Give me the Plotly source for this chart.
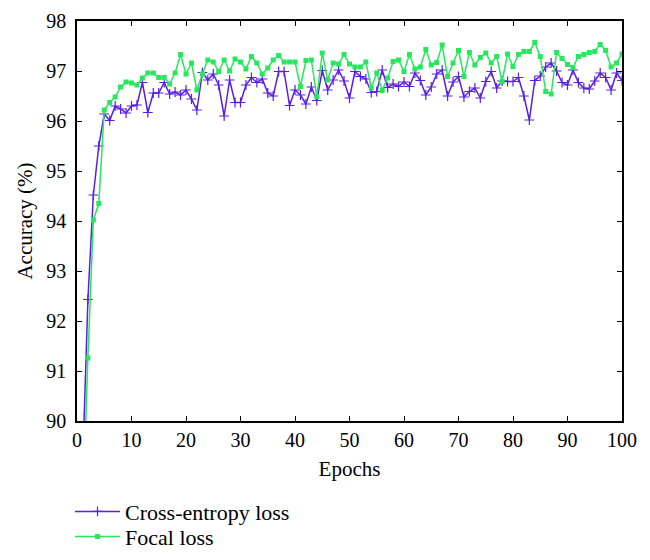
import plotly.graph_objects as go

epochs = list(range(1, 101))

cross_entropy = [
    89.0, 92.43, 94.52, 95.50, 96.14, 96.01, 96.30, 96.24, 96.16, 96.30,
    96.32, 96.77, 96.17, 96.56, 96.56, 96.77, 96.54, 96.58, 96.52, 96.62,
    96.44, 96.22, 96.97, 96.82, 96.94, 96.72, 96.10, 96.82, 96.37, 96.37,
    96.72, 96.87, 96.77, 96.84, 96.56, 96.50, 96.99, 96.99, 96.31, 96.62,
    96.52, 96.34, 96.68, 96.41, 97.01, 96.62, 96.82, 97.02, 96.80, 96.46,
    96.99, 96.89, 96.84, 96.57, 96.59, 97.02, 96.67, 96.74, 96.69, 96.78,
    96.69, 96.96, 96.81, 96.52, 96.68, 96.94, 97.02, 96.50, 96.78, 96.89,
    96.48, 96.59, 96.66, 96.46, 96.79, 96.99, 96.66, 96.80, 96.79, 96.79,
    96.87, 96.50, 96.02, 96.81, 96.90, 97.08, 97.16, 97.00, 96.77, 96.72,
    97.02, 96.77, 96.66, 96.64, 96.80, 96.96, 96.87, 96.62, 96.96, 96.81,
]

focal = [
    88.0, 91.26, 94.02, 94.35, 96.22, 96.37, 96.48, 96.68, 96.78, 96.76,
    96.72, 96.86, 96.96, 96.96, 96.87, 96.87, 96.74, 96.96, 97.33, 96.94,
    97.16, 96.62, 96.94, 97.22, 97.18, 96.99, 97.22, 97.00, 97.24, 97.18,
    97.04, 97.29, 97.16, 96.94, 97.06, 97.22, 97.31, 97.18, 97.18, 97.18,
    96.69, 97.21, 97.22, 96.49, 97.36, 96.82, 97.16, 97.14, 97.33, 97.14,
    97.08, 97.08, 97.18, 96.66, 96.96, 96.61, 96.86, 97.19, 97.22, 96.99,
    97.33, 97.04, 97.08, 97.43, 97.12, 97.17, 97.52, 96.89, 97.16, 97.41,
    96.89, 97.37, 97.12, 97.27, 97.36, 97.16, 97.29, 96.79, 97.34, 97.09,
    97.33, 97.39, 97.39, 97.57, 97.29, 96.59, 96.54, 97.37, 97.25, 97.13,
    97.07, 97.29, 97.33, 97.37, 97.39, 97.53, 97.41, 97.08, 97.16, 97.34,
]

x_ticks = [0, 10, 20, 30, 40, 50, 60, 70, 80, 90, 100]
y_ticks = [90, 91, 92, 93, 94, 95, 96, 97, 98]

PURPLE = "#5a1fe3"
GREEN = "#27e85c"
FONT = "Liberation Serif"

fig = go.Figure()
fig.add_trace(go.Scatter(
    x=epochs, y=cross_entropy, name="Cross-entropy loss", mode="lines+markers",
    line=dict(color=PURPLE, width=1.5),
    marker=dict(symbol="cross-thin", size=7, line=dict(color=PURPLE, width=1.2), color=PURPLE),
    legend="legend", showlegend=True,
))
fig.add_trace(go.Scatter(
    x=epochs, y=focal, name="Focal loss", mode="lines+markers",
    line=dict(color=GREEN, width=1.5),
    marker=dict(symbol="square", size=5, color=GREEN),
    legend="legend2", showlegend=True,
))

axis_common = dict(
    showline=True, linecolor="black", linewidth=1.5, mirror="ticks",
    ticks="inside", ticklen=5, tickcolor="black", tickwidth=1,
    showgrid=False, zeroline=False,
    tickfont=dict(family=FONT, size=20, color="black"),
)

fig.update_xaxes(range=[0, 100], tickvals=x_ticks, ticktext=[str(v) for v in x_ticks],
                 title=dict(text="Epochs", font=dict(family=FONT, size=21, color="black"), standoff=12),
                 **axis_common)
fig.update_yaxes(range=[90, 98], tickvals=y_ticks, ticktext=[str(v) + " " for v in y_ticks],
                 title=dict(text="Accuracy (%)", font=dict(family=FONT, size=21, color="black"), standoff=8),
                 **axis_common)

legend_common = dict(
    x=-0.0128, xanchor="left", yanchor="middle",
    font=dict(family=FONT, size=22, color="black"),
    bgcolor="rgba(0,0,0,0)", itemwidth=45,
)

fig.update_layout(
    width=650, height=560,
    showlegend=True,
    margin=dict(l=77, r=28, t=21, b=139, autoexpand=False),
    plot_bgcolor="white", paper_bgcolor="white",
    font=dict(family=FONT, size=20, color="black"),
    legend=dict(y=-0.2265, **legend_common),
    legend2=dict(y=-0.289, **legend_common),
)

fig.write_html("out.html", config={"displayModeBar": False},
               post_script="document.body.style.margin='0';")
